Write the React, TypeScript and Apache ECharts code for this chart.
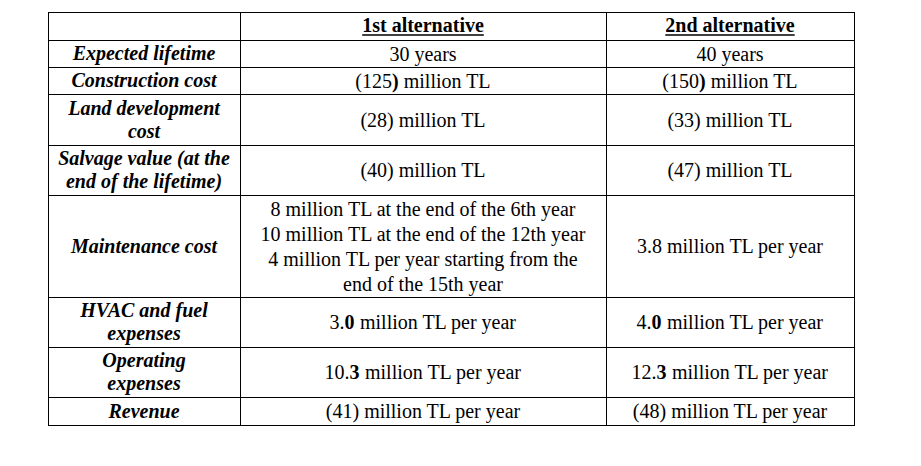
import React, { useEffect, useRef } from "react";
import * as echarts from "echarts";

// ---- data ----
const headers = ["", "1st alternative", "2nd alternative"];
const rowLabels = [
  "Expected lifetime",
  "Construction cost",
  "Land development\ncost",
  "Salvage value (at the\nend of the lifetime)",
  "Maintenance cost",
  "HVAC and fuel\nexpenses",
  "Operating\nexpenses",
  "Revenue",
];
// segments between ** ** are bold
const alt1Values = [
  "30 years",
  "(125**)** million TL",
  "(28) million TL",
  "(40) million TL",
  "8 million TL at the end of the 6th year\n10 million TL at the end of the 12th year\n4 million TL per year starting from the\nend of the 15th year",
  "3.**0** million TL per year",
  "10.**3** million TL per year",
  "(41) million TL per year",
];
const alt2Values = [
  "40 years",
  "(150**)** million TL",
  "(33) million TL",
  "(47) million TL",
  "3.8 million TL per year",
  "4.**0** million TL per year",
  "12.**3** million TL per year",
  "(48) million TL per year",
];

// ---- layout ----
const colX = [48, 240, 606, 854];
const rowY = [12, 40, 67, 94, 145, 195, 297, 347, 397, 425];
const FONT = "Liberation Serif";
const FS = 20;

function toRich(s: string): string {
  return s
    .split("\n")
    .map((line) =>
      line
        .split("**")
        .map((seg, i) => (seg === "" ? "" : `{${i % 2 === 1 ? "b" : "n"}|${seg}}`))
        .join("")
    )
    .join("\n");
}

function measure(text: string, font: string): number {
  const c = document.createElement("canvas");
  const ctx = c.getContext("2d");
  if (!ctx) return text.length * 9;
  ctx.font = font;
  return ctx.measureText(text).width;
}

export default function App() {
  const ref = useRef<HTMLDivElement>(null);
  useEffect(() => {
    if (!ref.current) return;
    const chart = echarts.init(ref.current, undefined, { renderer: "svg" });
    const elements: any[] = [];
    const stroke = { stroke: "#000", lineWidth: 1 };
    rowY.forEach((y) => {
      elements.push({
        type: "line",
        shape: { x1: colX[0], y1: y + 0.5, x2: colX[3] + 1, y2: y + 0.5 },
        style: stroke,
      });
    });
    colX.forEach((x) => {
      elements.push({
        type: "line",
        shape: { x1: x + 0.5, y1: rowY[0], x2: x + 0.5, y2: rowY[rowY.length - 1] + 1 },
        style: stroke,
      });
    });
    const centers = [0, 1, 2].map((i) => (colX[i] + colX[i + 1]) / 2);
    headers.forEach((h, i) => {
      if (!h) return;
      const cy = (rowY[0] + rowY[1]) / 2 - 1;
      elements.push({
        type: "text",
        x: centers[i],
        y: cy,
        style: {
          text: h,
          fontFamily: FONT,
          fontSize: FS,
          fontWeight: "bold",
          fill: "#000",
          align: "center",
          verticalAlign: "middle",
        },
      });
      const w = measure(h, `bold ${FS}px "Liberation Serif"`);
      elements.push({
        type: "line",
        shape: { x1: centers[i] - w / 2, y1: cy + 10, x2: centers[i] + w / 2, y2: cy + 10 },
        style: { stroke: "#000", lineWidth: 1.4 },
      });
    });
    const rich = {
      n: { fontFamily: FONT, fontSize: FS, lineHeight: 25, fill: "#000" },
      b: { fontFamily: FONT, fontSize: FS, lineHeight: 25, fill: "#000", fontWeight: "bold" },
    };
    rowLabels.forEach((lab, r) => {
      const cy = (rowY[r + 1] + rowY[r + 2]) / 2;
      elements.push({
        type: "text",
        x: centers[0],
        y: cy - 0.5,
        style: {
          text: lab,
          fontFamily: FONT,
          fontSize: FS,
          fontWeight: "bold",
          fontStyle: "italic",
          lineHeight: 23,
          fill: "#000",
          align: "center",
          verticalAlign: "middle",
        },
      });
      [alt1Values[r], alt2Values[r]].forEach((v, k) => {
        elements.push({
          type: "text",
          x: centers[k + 1],
          y: cy,
          style: {
            text: toRich(v),
            rich,
            fontFamily: FONT,
            fontSize: FS,
            lineHeight: 25,
            fill: "#000",
            align: "center",
            verticalAlign: "middle",
          },
        });
      });
    });
    chart.setOption({
      animation: false,
      backgroundColor: "#fff",
      graphic: { elements },
    });
    return () => chart.dispose();
  }, []);
  return (
    <div
      ref={ref}
      style={{ position: "absolute", left: 0, top: 0, width: 921, height: 466, background: "#fff" }}
    />
  );
}
